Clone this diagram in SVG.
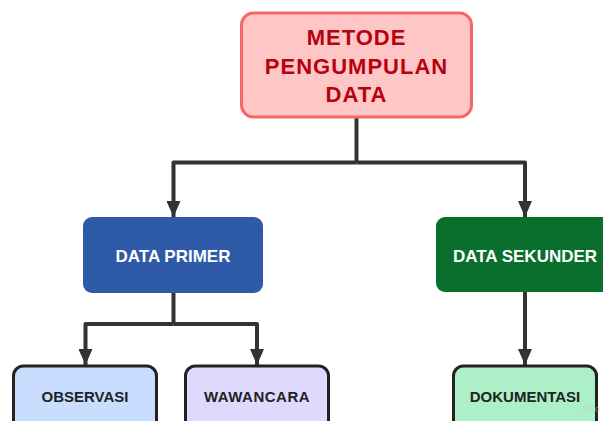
<svg xmlns="http://www.w3.org/2000/svg" width="603" height="421" viewBox="0 0 603 421">
  <defs>
    <marker id="arrow" viewBox="0 0 16 14" refX="16" refY="7" markerWidth="16" markerHeight="14" markerUnits="userSpaceOnUse" orient="auto">
      <path d="M0,0 L16,7 L0,14 Z" fill="#333333"/>
    </marker>
    <style>
      .conn { fill: none; stroke: #333333; stroke-width: 4; stroke-linejoin: round; }
      .t { font-family: "Liberation Sans", Arial, sans-serif; font-weight: bold; text-anchor: middle; }
      .leaf { stroke: #222222; stroke-width: 3; }
      .leaftext { font-size: 15px; fill: #222222; }
      .midtext { font-size: 17px; fill: #ffffff; }
    </style>
  </defs>
  <rect width="603" height="421" fill="#ffffff"/>

  <g id="connectors">
    <path class="conn" d="M356.5,118 L356.5,162.5"/>
    <path class="conn" d="M356.5,162.5 L173.5,162.5 L173.5,217" marker-end="url(#arrow)"/>
    <path class="conn" d="M356.5,162.5 L525,162.5 L525,217" marker-end="url(#arrow)"/>
    <path class="conn" d="M173.5,293 L173.5,324"/>
    <path class="conn" d="M173.5,324 L85.5,324 L85.5,365" marker-end="url(#arrow)"/>
    <path class="conn" d="M173.5,324 L257,324 L257,365" marker-end="url(#arrow)"/>
    <path class="conn" d="M525,292 L525,365" marker-end="url(#arrow)"/>
  </g>

  <g id="metode">
    <rect x="241.5" y="13" width="230" height="104" rx="12" fill="#ffc6c6" stroke="#f56767" stroke-width="3"/>
    <text class="t" x="356.5" y="45" font-size="22" fill="#b8000e" letter-spacing="1">METODE</text>
    <text class="t" x="356.5" y="74" font-size="22" fill="#b8000e" letter-spacing="1">PENGUMPULAN</text>
    <text class="t" x="356.5" y="102" font-size="22" fill="#b8000e" letter-spacing="1">DATA</text>
  </g>

  <g id="data-primer">
    <rect x="83" y="217" width="180" height="76" rx="9" fill="#2e5aa8"/>
    <text class="t midtext" x="173" y="262">DATA PRIMER</text>
  </g>

  <g id="data-sekunder">
    <rect x="436" y="217" width="180" height="75" rx="9" fill="#0a6f2d"/>
    <text class="t midtext" x="525" y="262">DATA SEKUNDER</text>
  </g>

  <g id="observasi">
    <rect class="leaf" x="13.5" y="366" width="143" height="70" rx="10" fill="#c9defe"/>
    <text class="t leaftext" x="85" y="402">OBSERVASI</text>
  </g>

  <g id="wawancara">
    <rect class="leaf" x="185.5" y="366" width="143" height="70" rx="10" fill="#dfd9fd"/>
    <text class="t leaftext" x="257" y="402" letter-spacing="0.5">WAWANCARA</text>
  </g>

  <g id="dokumentasi">
    <rect class="leaf" x="453.5" y="366" width="143" height="70" rx="10" fill="#adf0c7"/>
    <text class="t leaftext" x="525" y="402">DOKUMENTASI</text>
  </g>

  <text x="600" y="412" font-family="Liberation Sans, Arial, sans-serif" font-size="9" fill="#c8c8c8" text-anchor="end" opacity="0.6">miro</text>
</svg>
